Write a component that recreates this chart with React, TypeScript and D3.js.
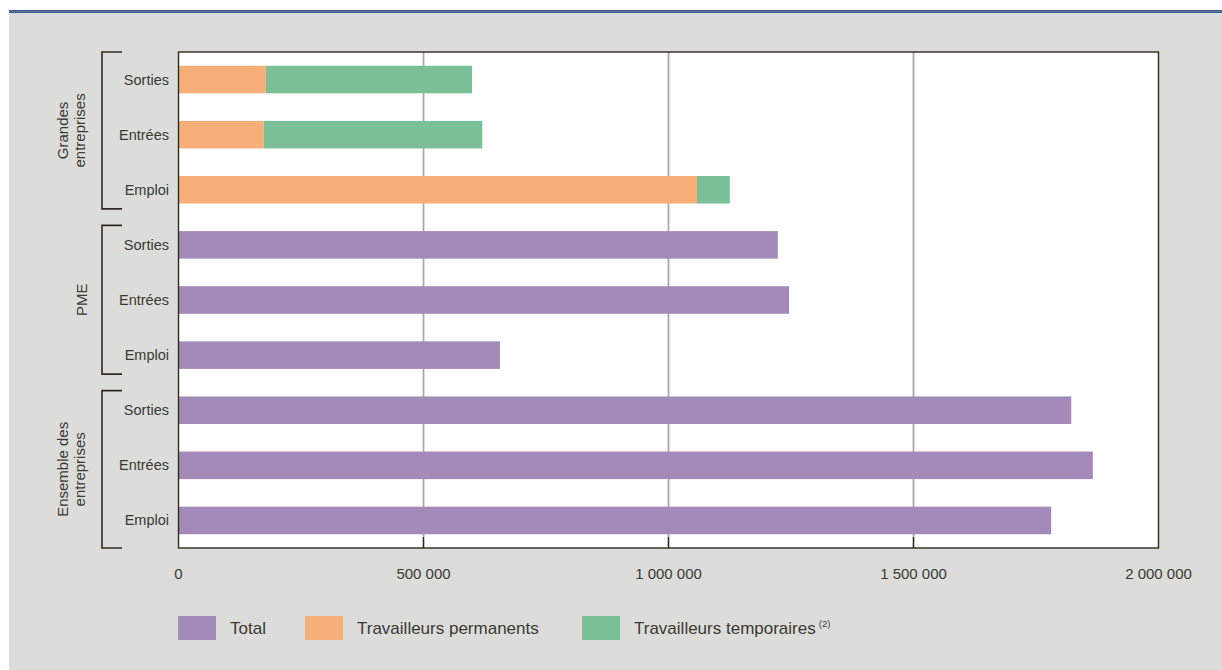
import React from "react";
import * as d3 from "d3";

// Row labels within each group, top to bottom
const rowLabels = ["Sorties", "Entrées", "Emploi"];
// Group names (each may span two lines)
const groupLines = [["Grandes", "entreprises"], ["PME"], ["Ensemble des", "entreprises"]];
// Large companies: permanent and temporary workers
const gePermanents = [178000, 174000, 1058000];
const geTemporaires = [421000, 446000, 67000];
// SMEs: total
const pmeTotal = [1223000, 1246000, 656000];
// All companies: total
const ensembleTotal = [1822000, 1866000, 1781000];
// Axis ticks
const xTicks = [0, 500000, 1000000, 1500000, 2000000];
const xTickLabels = ["0", "500 000", "1 000 000", "1 500 000", "2 000 000"];
// Legend
const legendItems = [
  { label: "Total", key: "total", sup: "" },
  { label: "Travailleurs permanents", key: "perm", sup: "" },
  { label: "Travailleurs temporaires", key: "temp", sup: "(2)" },
];

const COLORS: Record<string, string> = {
  total: "#a48ab8",
  perm: "#f7af7a",
  temp: "#7bbf96",
};

const W = 1222;
const H = 670;
const BG = "#dcdcda";
const TEXT = "#3b3a33";
const FRAME = "#2c2a1f";
const FONT = "'Liberation Sans', Arial, sans-serif";

const plot = { left: 178.5, right: 1158.5, top: 52, bottom: 548 };

export default function App() {
  const x = d3.scaleLinear().domain([0, 2000000]).range([plot.left, plot.right]);
  const keys = d3.range(9).map(String);
  const y = d3
    .scaleBand<string>()
    .domain(keys)
    .range([plot.top, plot.bottom])
    .paddingInner(0.5)
    .paddingOuter(0.25);
  const bw = y.bandwidth();
  const step = y.step();

  type Seg = { key: string; x0: number; x1: number; row: number };
  const segs: Seg[] = [];
  rowLabels.forEach((_, i) => {
    segs.push({ key: "perm", x0: 0, x1: gePermanents[i], row: i });
    segs.push({ key: "temp", x0: gePermanents[i], x1: gePermanents[i] + geTemporaires[i], row: i });
    segs.push({ key: "total", x0: 0, x1: pmeTotal[i], row: 3 + i });
    segs.push({ key: "total", x0: 0, x1: ensembleTotal[i], row: 6 + i });
  });

  // Bracket spans for each group
  const groupSpans = [0, 1, 2].map((g) => {
    const top = plot.top + (g === 0 ? 0 : g * 3 * step + 8);
    const bottom = g === 2 ? plot.bottom : plot.top + (g + 1) * 3 * step - 8.5;
    return { top, bottom, mid: (top + bottom) / 2 };
  });

  const legendX = [178, 305, 582];

  return (
    <svg
      width={W}
      height={H}
      style={{ position: "absolute", left: 0, top: 0, fontFamily: FONT }}
    >
      <rect x={0} y={0} width={W} height={H} fill="#ffffff" />
      <rect x={9} y={11} width={W - 9} height={H - 11} fill={BG} />
      <rect x={9} y={10} width={W - 9} height={3} fill="#3a5587" />
      <rect x={9} y={11.2} width={W - 9} height={0.8} fill="#6f86b0" />

      {/* plot background */}
      <rect
        x={plot.left}
        y={plot.top}
        width={plot.right - plot.left}
        height={plot.bottom - plot.top}
        fill="#ffffff"
      />

      {/* gridlines */}
      {xTicks.slice(1, -1).map((t) => (
        <line
          key={"g" + t}
          x1={x(t)}
          x2={x(t)}
          y1={plot.top}
          y2={plot.bottom}
          stroke="#ababab"
          strokeWidth={1.8}
        />
      ))}

      {/* bars */}
      {segs.map((s, i) => (
        <rect
          key={i}
          x={x(s.x0)}
          y={y(String(s.row))}
          width={x(s.x1) - x(s.x0)}
          height={bw}
          fill={COLORS[s.key]}
        />
      ))}

      {/* inward ticks */}
      {xTicks.slice(1, -1).map((t) => (
        <line
          key={"t" + t}
          x1={x(t)}
          x2={x(t)}
          y1={plot.bottom - 11}
          y2={plot.bottom}
          stroke={FRAME}
          strokeWidth={1.3}
        />
      ))}

      {/* frame */}
      <rect
        x={plot.left}
        y={plot.top}
        width={plot.right - plot.left}
        height={plot.bottom - plot.top}
        fill="none"
        stroke={FRAME}
        strokeWidth={1.4}
      />

      {/* tick labels */}
      {xTicks.map((t, i) => (
        <text
          key={"l" + t}
          x={x(t)}
          y={579}
          textAnchor="middle"
          fontSize={15}
          fill={TEXT}
        >
          {xTickLabels[i]}
        </text>
      ))}

      {/* row labels */}
      {keys.map((k, i) => (
        <text
          key={"r" + k}
          x={169}
          y={(y(k) as number) + bw / 2 + 5}
          textAnchor="end"
          fontSize={14.5}
          fill={TEXT}
        >
          {rowLabels[i % 3]}
        </text>
      ))}

      {/* group brackets and labels */}
      {groupSpans.map((g, gi) => (
        <g key={"b" + gi}>
          <path
            d={`M122,${g.top}H102V${g.bottom}H122`}
            fill="none"
            stroke={FRAME}
            strokeWidth={1.6}
          />
          {groupLines[gi].map((line, li) => {
            const n = groupLines[gi].length;
            const bx = n === 1 ? 87 : li === 0 ? 68 : 85;
            return (
              <text
                key={li}
                transform={`translate(${bx},${g.mid}) rotate(-90)`}
                textAnchor="middle"
                fontSize={15}
                fill={TEXT}
              >
                {line}
              </text>
            );
          })}
        </g>
      ))}

      {/* legend */}
      {legendItems.map((it, i) => (
        <g key={it.key} transform={`translate(${legendX[i]},616)`}>
          <rect x={0} y={0} width={38} height={24} fill={COLORS[it.key]} />
          <text x={52} y={18} fontSize={17} fill={TEXT}>
            {it.label}
            {it.sup && (
              <tspan fontSize={9.5} dx={3} dy={-7}>
                {it.sup}
              </tspan>
            )}
          </text>
        </g>
      ))}
    </svg>
  );
}
